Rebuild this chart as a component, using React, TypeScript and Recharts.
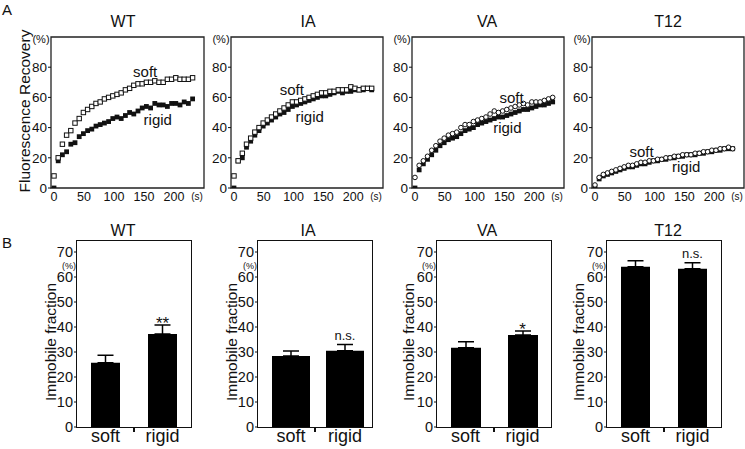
import React from 'react';
import { ScatterChart, Scatter, XAxis, YAxis, ReferenceArea, ReferenceDot, BarChart, Bar, ErrorBar } from 'recharts';

// ---------- Data ----------
const times = [0, 7, 14, 21, 28, 35, 42, 49, 56, 63, 70, 77, 84, 91, 98, 105, 112, 119, 126, 133, 140, 147, 154, 161, 168, 175, 182, 189, 196, 203, 210, 217, 224, 231];

const wtSoft = [8, 20, 29, 35, 38, 43, 46, 50, 52, 54, 56, 57, 59, 60, 61, 62, 63, 65, 66, 68, 69, 69, 70, 70, 71, 70, 70, 72, 72, 73, 72, 72, 72, 73];
const wtRigid = [0, 18, 22, 24, 29, 30, 34, 36, 38, 39, 41, 42, 43, 44, 46, 47, 46, 48, 50, 49, 51, 53, 54, 53, 56, 55, 55, 54, 56, 56, 55, 57, 56, 59];
const iaSoft = [8, 18, 23, 29, 33, 37, 40, 43, 45, 47, 49, 51, 53, 55, 57, 57, 58, 59, 60, 61, 62, 63, 63, 64, 64, 65, 65, 65, 67, 66, 65, 66, 66, 66];
const iaRigid = [0, 18, 20, 27, 31, 35, 38, 41, 43, 45, 47, 49, 50, 52, 54, 55, 56, 57, 58, 59, 60, 61, 61, 62, 63, 64, 63, 64, 64, 65, 65, 65, 66, 65];
const vaSoft = [7, 15, 18, 21, 25, 28, 31, 33, 35, 36, 37, 40, 42, 42, 44, 45, 46, 47, 49, 51, 50, 51, 52, 53, 54, 55, 56, 55, 57, 57, 57, 58, 59, 60];
const vaRigid = [0, 12, 16, 19, 22, 25, 28, 30, 32, 33, 34, 36, 38, 39, 40, 42, 43, 44, 45, 46, 47, 47, 48, 49, 50, 51, 52, 52, 53, 54, 55, 55, 56, 57];
const t12Soft = [2, 7, 9, 10, 11, 12, 13, 14, 15, 15, 16, 17, 17, 18, 18, 19, 19, 20, 20, 21, 21, 22, 22, 22, 23, 23, 24, 24, 25, 25, 26, 26, 27, 26];
const t12Rigid = [0, 6, 8, 9, 10, 11, 12, 13, 14, 14, 15, 16, 16, 17, 18, 18, 19, 19, 20, 20, 21, 21, 22, 22, 22, 23, 23, 24, 24, 25, 25, 26, 26, 26];

const recoveryXTicks = [0, 50, 100, 150, 200];
const recoveryYTicks = [0, 20, 40, 60, 80];

const categories = ['soft', 'rigid'];
const wtImmobile = [25.7, 37.2];
const wtImmobileErr = [3.0, 3.6];
const iaImmobile = [28.4, 30.5];
const iaImmobileErr = [2.0, 2.5];
const vaImmobile = [31.7, 36.8];
const vaImmobileErr = [2.4, 1.6];
const t12Immobile = [64.1, 63.3];
const t12ImmobileErr = [2.4, 2.4];
const wtSig = '**';
const iaSig = 'n.s.';
const vaSig = '*';
const t12Sig = 'n.s.';
const immobileTicks = [0, 10, 20, 30, 40, 50, 60, 70];

// ---------- Layout ----------
const INK = '#111';
const FONT = '"Liberation Sans", Arial, Helvetica, sans-serif';
const TOP_T = 37;
const TOP_B = 188;
const BOT_T = 241;
const BOT_B = 427;

const topPanels = [
  { name: 'WT', l: 51, r: 204, soft: wtSoft, rigid: wtRigid, circle: false, titleX: 123, softAt: [152, 77], rigidAt: [173, 45] },
  { name: 'IA', l: 231, r: 383, soft: iaSoft, rigid: iaRigid, circle: false, titleX: 308, softAt: [97, 65], rigidAt: [127, 47] },
  { name: 'VA', l: 412, r: 564, soft: vaSoft, rigid: vaRigid, circle: true, titleX: 487, softAt: [162, 59.6], rigidAt: [155, 39.7] },
  { name: 'T12', l: 592, r: 744, soft: t12Soft, rigid: t12Rigid, circle: true, titleX: 668, softAt: [78, 23.8], rigidAt: [153, 13.9] },
];

const botPanels = [
  { name: 'WT', l: 77, r: 191, vals: wtImmobile, errs: wtImmobileErr, sig: wtSig, barSize: 29, pad: { left: 0, right: 0 }, titleX: 123, labelX: 51 },
  { name: 'IA', l: 258, r: 372, vals: iaImmobile, errs: iaImmobileErr, sig: iaSig, barSize: 38, pad: { left: 6, right: 0 }, titleX: 308, labelX: 232 },
  { name: 'VA', l: 437, r: 551, vals: vaImmobile, errs: vaImmobileErr, sig: vaSig, barSize: 30, pad: { left: 0, right: 0 }, titleX: 487, labelX: 409 },
  { name: 'T12', l: 607, r: 721, vals: t12Immobile, errs: t12ImmobileErr, sig: t12Sig, barSize: 29, pad: { left: 0, right: 0 }, titleX: 668, labelX: 579 },
];

// ---------- Shapes ----------
const OpenSquare = (p: any) => (
  <rect x={p.cx - 2.2} y={p.cy - 2.2} width={4.4} height={4.4} fill="#fff" stroke={INK} strokeWidth={1} />
);
const FilledSquare = (p: any) => (
  <rect x={p.cx - 2.4} y={p.cy - 2.4} width={4.8} height={4.8} fill={INK} />
);
const OpenCircle = (p: any) => (
  <circle cx={p.cx} cy={p.cy} r={2.3} fill="#fff" stroke={INK} strokeWidth={1} />
);

const Txt = ({ x, y, size, children, rotate, color }: any) => (
  <div
    style={{
      position: 'absolute',
      left: x,
      top: y,
      transform: `translate(-50%, -50%)${rotate ? ' rotate(-90deg)' : ''}`,
      fontSize: size,
      lineHeight: 1,
      whiteSpace: 'nowrap',
      color: color || INK,
    }}
  >
    {children}
  </div>
);

const centerLabel = (text: string, size: number) => (props: any) => {
  const vb = props.viewBox || {};
  const cx = vb.x + (vb.width || 0) / 2;
  const cy = vb.y + (vb.height || 0) / 2;
  return (
    <text x={cx} y={cy} dy="0.35em" textAnchor="middle" fontSize={size} fill={INK}>
      {text}
    </text>
  );
};

const sigLabel = (text: string) => (props: any) => {
  const vb = props.viewBox || {};
  const cx = vb.x + (vb.width || 0) / 2;
  const cy = vb.y + (vb.height || 0) / 2;
  const isStar = text.indexOf('*') >= 0;
  return (
    <text x={cx} y={isStar ? cy + 4 : cy - 5} textAnchor="middle" fontSize={isStar ? 17 : 13} fill={INK}>
      {text}
    </text>
  );
};

function RecoveryPanel({ p }: any) {
  const yW = 50, mt = 4, mr = 4, xH = 22;
  const w = p.r - p.l;
  const h = TOP_B - TOP_T;
  const softPts = times.map((t, i) => ({ t, v: p.soft[i] }));
  const rigidPts = times.map((t, i) => ({ t, v: p.rigid[i] }));
  return (
    <div style={{ position: 'absolute', left: p.l - yW, top: TOP_T - mt }}>
      <ScatterChart width={yW + w + mr} height={mt + h + xH} margin={{ top: mt, right: mr, bottom: 0, left: 0 }}>
        <XAxis
          type="number"
          dataKey="t"
          domain={[-5, 250]}
          ticks={recoveryXTicks}
          allowDataOverflow
          tickLine={false}
          axisLine={false}
          tickSize={4}
          tickMargin={0}
          height={xH}
          tick={{ fontSize: 12.5, fill: INK }}
          interval={0}
        />
        <YAxis
          type="number"
          dataKey="v"
          domain={[0, 100]}
          ticks={recoveryYTicks}
          allowDataOverflow
          width={yW}
          axisLine={false}
          tickSize={3}
          tickMargin={1}
          tickLine={{ stroke: INK, strokeWidth: 1 }}
          tick={{ fontSize: 13.5, fill: INK }}
          interval={0}
        />
        <ReferenceArea x1={-5} x2={250} y1={0} y2={100} fill="none" stroke="#222" strokeWidth={1.3} ifOverflow="visible" />
        <Scatter data={rigidPts} shape={FilledSquare} isAnimationActive={false} />
        <Scatter data={softPts} shape={p.circle ? OpenCircle : OpenSquare} isAnimationActive={false} />
        <ReferenceDot x={p.softAt[0]} y={p.softAt[1]} r={1} fill="none" stroke="none" label={centerLabel('soft', 15)} />
        <ReferenceDot x={p.rigidAt[0]} y={p.rigidAt[1]} r={1} fill="none" stroke="none" label={centerLabel('rigid', 15)} />
      </ScatterChart>
    </div>
  );
}

function ImmobilePanel({ p }: any) {
  const yW = 40, mt = 4, mr = 4, xH = 22;
  const w = p.r - p.l;
  const h = BOT_B - BOT_T;
  const rows = categories.map((c, i) => ({ name: c, v: p.vals[i], e: [0, p.errs[i]] }));
  const sigY = p.vals[1] + p.errs[1];
  return (
    <>
      <div style={{ position: 'absolute', left: p.l - yW, top: BOT_T - mt }}>
        <BarChart width={yW + w + mr} height={mt + h + xH} data={rows} margin={{ top: mt, right: mr, bottom: 0, left: 0 }}>
          <XAxis
            dataKey="name"
            tickLine={false}
            axisLine={false}
            tickSize={2}
            tickMargin={0}
            height={xH}
            padding={p.pad}
            tick={{ fontSize: 18, fill: INK }}
            interval={0}
          />
          <YAxis
            type="number"
            domain={[0, 74.4]}
            ticks={immobileTicks}
            allowDataOverflow
            width={yW}
            axisLine={false}
            tickSize={3}
            tickMargin={1}
            tickLine={{ stroke: INK, strokeWidth: 1 }}
            tick={{ fontSize: 14.5, fill: INK }}
            interval={0}
          />
          <Bar dataKey="v" fill="#000" barSize={p.barSize} isAnimationActive={false}>
            <ErrorBar dataKey="e" width={8} stroke="#000" strokeWidth={1.5} direction="y" />
          </Bar>
          <ReferenceDot x="rigid" y={sigY} r={1} fill="none" stroke="none" label={sigLabel(p.sig)} />
        </BarChart>
      </div>
      <div
        style={{
          position: 'absolute',
          left: p.l - 0.75,
          top: BOT_T - 0.75,
          width: w + 1.5,
          height: h + 1.5,
          border: `1.5px solid ${INK}`,
          boxSizing: 'border-box',
          pointerEvents: 'none',
        }}
      />
      <div style={{ position: 'absolute', left: p.l + w / 2 - 0.75, top: BOT_B, width: 1.5, height: 5, background: INK }} />
    </>
  );
}

export default function App() {
  return (
    <div
      style={{
        position: 'absolute',
        left: 0,
        top: 0,
        width: 745,
        height: 449,
        overflow: 'hidden',
        background: '#fff',
        fontFamily: FONT,
        color: INK,
      }}
    >
      <Txt x={7} y={9} size={15}>A</Txt>
      <Txt x={7} y={242} size={15}>B</Txt>
      <Txt x={25} y={111} size={15.5} rotate>Fluorescence Recovery</Txt>
      {topPanels.map((p) => (
        <React.Fragment key={'t' + p.name}>
          <RecoveryPanel p={p} />
          <Txt x={p.titleX} y={22} size={16}>{p.name}</Txt>
          <Txt x={p.l - 10} y={39} size={11}>(%)</Txt>
          <Txt x={p.r - 7} y={197} size={10}>(s)</Txt>
        </React.Fragment>
      ))}
      {botPanels.map((p) => (
        <React.Fragment key={'b' + p.name}>
          <ImmobilePanel p={p} />
          <Txt x={p.titleX} y={231} size={16}>{p.name}</Txt>
          <Txt x={p.l - 8} y={265.5} size={9}>(%)</Txt>
          <Txt x={p.labelX} y={342} size={15.5} rotate>Immobile fraction</Txt>
        </React.Fragment>
      ))}
    </div>
  );
}
